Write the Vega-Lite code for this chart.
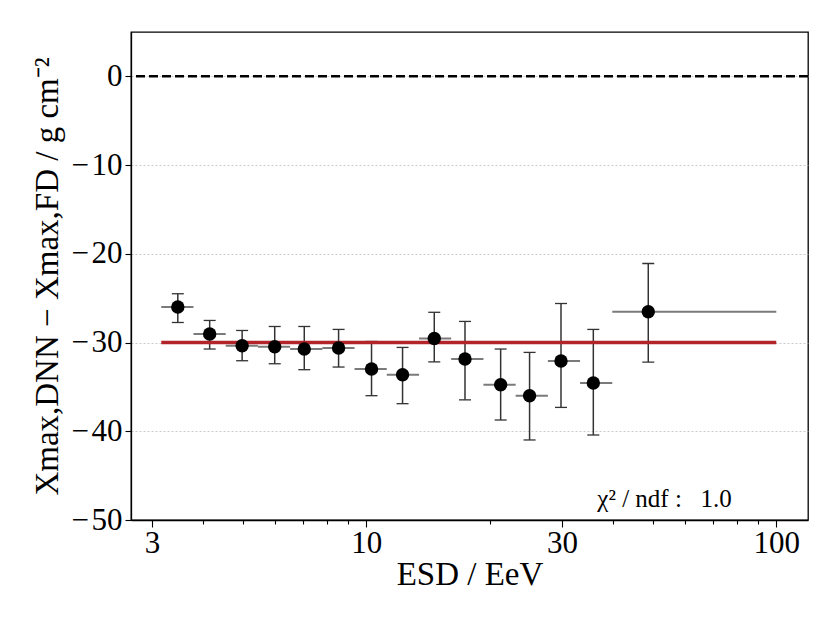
{
  "$schema": "https://vega.github.io/schema/vega-lite/v6.json",
  "autosize": {"type": "none"},
  "width": 677,
  "height": 488,
  "padding": {"left": 131, "top": 32, "right": 31, "bottom": 109},
  "background": "white",
  "config": {
    "font": "Liberation Serif",
    "view": {"stroke": "black", "strokeWidth": 1.3},
    "axis": {
      "labelFont": "Liberation Serif",
      "titleFont": "Liberation Serif",
      "labelColor": "black",
      "titleColor": "black",
      "titleFontWeight": "normal",
      "domainColor": "black",
      "domainWidth": 1.3,
      "tickColor": "black",
      "tickWidth": 1.1
    }
  },
  "datasets": {
    "bins": [
      {"energy": 3.47, "e_lo": 3.162, "e_hi": 3.789, "dxmax": -26.0, "err_lo": -27.74, "err_hi": -24.5},
      {"energy": 4.15, "e_lo": 3.789, "e_hi": 4.541, "dxmax": -29.04, "err_lo": -30.73, "err_hi": -27.51},
      {"energy": 4.98, "e_lo": 4.541, "e_hi": 5.441, "dxmax": -30.36, "err_lo": -32.05, "err_hi": -28.64},
      {"energy": 5.98, "e_lo": 5.441, "e_hi": 6.521, "dxmax": -30.47, "err_lo": -32.39, "err_hi": -28.19},
      {"energy": 7.06, "e_lo": 6.521, "e_hi": 7.814, "dxmax": -30.73, "err_lo": -33.06, "err_hi": -28.19},
      {"energy": 8.56, "e_lo": 7.814, "e_hi": 9.363, "dxmax": -30.62, "err_lo": -32.76, "err_hi": -28.52},
      {"energy": 10.3, "e_lo": 9.363, "e_hi": 11.22, "dxmax": -32.98, "err_lo": -35.99, "err_hi": -29.88},
      {"energy": 12.26, "e_lo": 11.22, "e_hi": 13.45, "dxmax": -33.63, "err_lo": -36.89, "err_hi": -30.55},
      {"energy": 14.65, "e_lo": 13.45, "e_hi": 16.11, "dxmax": -29.55, "err_lo": -32.18, "err_hi": -26.59},
      {"energy": 17.41, "e_lo": 16.11, "e_hi": 19.31, "dxmax": -31.86, "err_lo": -36.46, "err_hi": -27.62},
      {"energy": 21.27, "e_lo": 19.31, "e_hi": 23.14, "dxmax": -34.75, "err_lo": -38.73, "err_hi": -30.73},
      {"energy": 25.02, "e_lo": 23.14, "e_hi": 27.73, "dxmax": -35.99, "err_lo": -40.98, "err_hi": -31.11},
      {"energy": 29.85, "e_lo": 27.73, "e_hi": 33.22, "dxmax": -32.08, "err_lo": -37.31, "err_hi": -25.6},
      {"energy": 35.79, "e_lo": 33.22, "e_hi": 39.81, "dxmax": -34.56, "err_lo": -40.42, "err_hi": -28.52},
      {"energy": 48.73, "e_lo": 39.81, "e_hi": 100, "dxmax": -26.53, "err_lo": -32.2, "err_hi": -21.09}
    ],
    "fit": [{"e_lo": 3.162, "e_hi": 100, "mean": -30}]
  },
  "encoding": {
    "x": {
      "type": "quantitative",
      "scale": {"type": "log", "domain": [2.668, 119.5], "nice": false, "zero": false},
      "axis": {
        "title": "ESD / EeV",
        "titleFontSize": 33,
        "titlePadding": 0,
        "labelFontSize": 31,
        "labelPadding": 1,
        "grid": false,
        "values": [3, 4, 5, 6, 7, 8, 9, 10, 20, 30, 40, 50, 60, 70, 80, 90, 100],
        "labelExpr": "indexof([3, 10, 30, 100], datum.value) >= 0 ? format(datum.value, 'd') : ''",
        "tickSize": {"condition": {"test": "indexof([3, 10, 30, 100], datum.value) >= 0", "value": 7}, "value": 4},
        "labelFlush": false,
        "labelOverlap": false
      }
    },
    "y": {
      "type": "quantitative",
      "scale": {"domain": [-50, 5], "nice": false, "zero": false},
      "axis": {
        "title": "Xmax,DNN − Xmax,FD / g cm⁻²",
        "titleFontSize": 33,
        "titlePadding": 6,
        "labelFontSize": 31,
        "labelPadding": 3,
        "labelExpr": "datum.value < 0 ? '−\u200a' + format(-datum.value, 'd') : format(datum.value, 'd')",
        "tickSize": 6,
        "values": [-50, -40, -30, -20, -10, 0],
        "grid": true,
        "gridColor": "#bdbdbd",
        "gridDash": [2, 2],
        "gridWidth": 0.8
      }
    }
  },
  "layer": [
    {
      "data": {"values": [{"zero": 0}]},
      "mark": {"type": "rule", "color": "black", "strokeWidth": 2.5, "strokeDash": [9, 4]},
      "encoding": {"y": {"field": "zero", "type": "quantitative"}}
    },
    {
      "data": {"name": "bins"},
      "mark": {"type": "rule", "color": "#7a7a7a", "strokeWidth": 2},
      "encoding": {
        "x": {"field": "e_lo"},
        "x2": {"field": "e_hi"},
        "y": {"field": "dxmax"}
      }
    },
    {
      "data": {"name": "bins"},
      "mark": {"type": "rule", "color": "#333333", "strokeWidth": 1.5},
      "encoding": {
        "x": {"field": "energy"},
        "y": {"field": "err_lo"},
        "y2": {"field": "err_hi"}
      }
    },
    {
      "data": {"name": "bins"},
      "mark": {"type": "tick", "orient": "horizontal", "color": "#333333", "size": 12, "thickness": 1.3, "opacity": 1},
      "encoding": {
        "x": {"field": "energy"},
        "y": {"field": "err_lo"}
      }
    },
    {
      "data": {"name": "bins"},
      "mark": {"type": "tick", "orient": "horizontal", "color": "#333333", "size": 12, "thickness": 1.3, "opacity": 1},
      "encoding": {
        "x": {"field": "energy"},
        "y": {"field": "err_hi"}
      }
    },
    {
      "data": {"name": "fit"},
      "mark": {"type": "rule", "color": "#b3232a", "strokeWidth": 3.5},
      "encoding": {
        "x": {"field": "e_lo"},
        "x2": {"field": "e_hi"},
        "y": {"field": "mean"}
      }
    },
    {
      "data": {"name": "bins"},
      "mark": {"type": "circle", "color": "black", "size": 180, "opacity": 1},
      "encoding": {
        "x": {"field": "energy"},
        "y": {"field": "dxmax"}
      }
    },
    {
      "data": {"values": [{"label": "χ² / ndf :\u00a0\u00a0 1.0"}]},
      "mark": {"type": "text", "align": "left", "baseline": "alphabetic", "fontSize": 25, "color": "black", "font": "Liberation Serif"},
      "encoding": {
        "x": {"datum": 36.6},
        "y": {"datum": -48.5},
        "text": {"field": "label"}
      }
    }
  ]
}
